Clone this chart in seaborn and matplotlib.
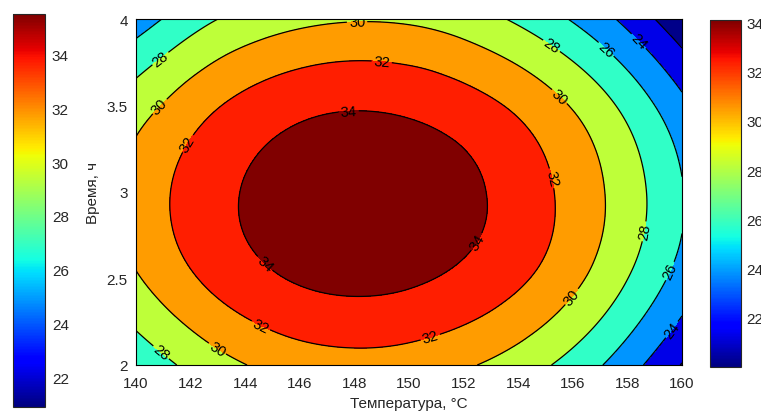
import numpy as np
import seaborn as sns
import matplotlib
matplotlib.use("Agg")
import matplotlib.pyplot as plt
import matplotlib.tri as mtri
from matplotlib.colors import Normalize
from matplotlib.cm import ScalarMappable

# ---- data (value of the response at grid nodes) ----
temperature = [140, 142.5, 145, 147.5, 150, 152.5, 155, 157.5, 160]
time_h = [2.0, 2.5, 3.0, 3.5, 4.0]
z_time_2_0 = [26.5, 28.9, 30.5, 31.2, 31.0, 30.0, 28.2, 25.5, 21.9]
z_time_2_5 = [29.8, 32.2, 33.8, 34.5, 34.3, 33.3, 31.5, 28.7, 25.2]
z_time_3_0 = [30.7, 33.1, 34.6, 35.3, 35.2, 34.2, 32.3, 29.6, 26.1]
z_time_3_5 = [29.1, 31.5, 33.1, 33.8, 33.6, 32.6, 30.8, 28.1, 24.5]
z_time_4_0 = [24.9, 27.6, 29.1, 29.8, 29.7, 28.7, 26.8, 24.1, 20.5]
fill_levels = [20, 22, 24, 26, 28, 30, 32, 34, 36]
line_levels = [22, 24, 26, 28, 30, 32, 34]
x_ticks = [140, 142, 144, 146, 148, 150, 152, 154, 156, 158, 160]
y_ticks = [2, 2.5, 3, 3.5, 4]
cbar_ticks = [22, 24, 26, 28, 30, 32, 34]
left_cbar_range = (20.9, 35.5)
right_cbar_range = (20.0, 34.1)
x_label = "Температура, °C"
y_label = "Время, ч"

# style: position of each filled band on the jet colour map
band_cmap_pos = [0.01, 0.09, 0.27, 0.41, 0.58, 0.745, 0.875, 1.0]
# style: approximate places of the inline contour labels
label_places = [
    (140.9, 3.77), (140.9, 3.49), (142.0, 3.27), (148.1, 3.97), (149.0, 3.75),
    (147.8, 3.44), (155.2, 3.84), (157.25, 3.83), (158.4, 3.87), (155.5, 3.55),
    (155.25, 3.08), (152.5, 2.71), (158.7, 2.77), (159.6, 2.54), (156.0, 2.39),
    (150.8, 2.15), (159.67, 2.2), (144.8, 2.60), (144.55, 2.22), (142.9, 2.075),
    (140.8, 2.05),
]

sns.set_style("white")
plt.rcParams["font.family"] = ["Liberation Sans", "DejaVu Sans"]
plt.rcParams["font.size"] = 11

fig = plt.figure(figsize=(7.61, 4.14), dpi=100)
W, H = 761, 414

def px_axes(x0, y0, x1, y1):
    return fig.add_axes([x0 / W, 1 - y1 / H, (x1 - x0) / W, (y1 - y0) / H])

ax = px_axes(136, 20, 682, 366)

Tg, Hg = np.meshgrid(np.array(temperature), np.array(time_h))
Z = np.array([z_time_2_0, z_time_2_5, z_time_3_0, z_time_3_5, z_time_4_0])

# triangulate in normalised coordinates so the smoothing is isotropic
tmin, tmax = min(temperature), max(temperature)
hmin, hmax = min(time_h), max(time_h)
u = (Tg.ravel() - tmin) / (tmax - tmin)
v = (Hg.ravel() - hmin) / (hmax - hmin)
tri_n = mtri.Triangulation(u, v)
interp = mtri.CubicTriInterpolator(tri_n, Z.ravel(), kind="min_E")
refiner = mtri.UniformTriRefiner(tri_n)
tri_r, z_r = refiner.refine_field(Z.ravel(), triinterpolator=interp, subdiv=5)
tri_plot = mtri.Triangulation(tmin + tri_r.x * (tmax - tmin),
                              hmin + tri_r.y * (hmax - hmin),
                              triangles=tri_r.triangles)

cmap = plt.get_cmap("jet")
band_colors = [cmap(p) for p in band_cmap_pos]
ax.tricontourf(tri_plot, z_r, levels=fill_levels, colors=band_colors)
cs = ax.tricontour(tri_plot, z_r, levels=line_levels, colors="black", linewidths=0.9)

ax.set_xlim(tmin, tmax)
ax.set_ylim(hmin, hmax)
ax.clabel(cs, fmt="%d", fontsize=10.5, inline=True, inline_spacing=2,
          manual=label_places)

ax.set_xticks(x_ticks)
ax.set_yticks(y_ticks)
ax.set_yticklabels([f"{t:g}" for t in y_ticks])
ax.tick_params(axis="x", direction="in", top=True, length=4, width=0.6,
               labelsize=11, pad=8)
ax.tick_params(axis="y", direction="in", right=True, length=4, width=0.6,
               labelsize=11, pad=6)
ax.set_xlabel(x_label, fontsize=11, labelpad=4)
ax.set_ylabel(y_label, fontsize=11, labelpad=5)
for s in ax.spines.values():
    s.set_color("black")
    s.set_linewidth(0.8)

# left colour bar
cax1 = px_axes(13, 15, 45, 408)
cb1 = fig.colorbar(ScalarMappable(norm=Normalize(*left_cbar_range), cmap=cmap), cax=cax1)
cb1.set_ticks(cbar_ticks)
cb1.ax.tick_params(direction="in", length=3, width=0.6, labelsize=11, pad=5)
cb1.outline.set_linewidth(0.8)

# right colour bar (its labels run off the right edge, as in the reference)
cax2 = px_axes(710, 21, 741, 368)
cb2 = fig.colorbar(ScalarMappable(norm=Normalize(*right_cbar_range), cmap=cmap), cax=cax2)
cb2.set_ticks(cbar_ticks)
cb2.ax.tick_params(direction="in", length=3, width=0.6, labelsize=11, pad=4)
cb2.outline.set_linewidth(0.8)

fig.savefig("out.png", dpi=100)
